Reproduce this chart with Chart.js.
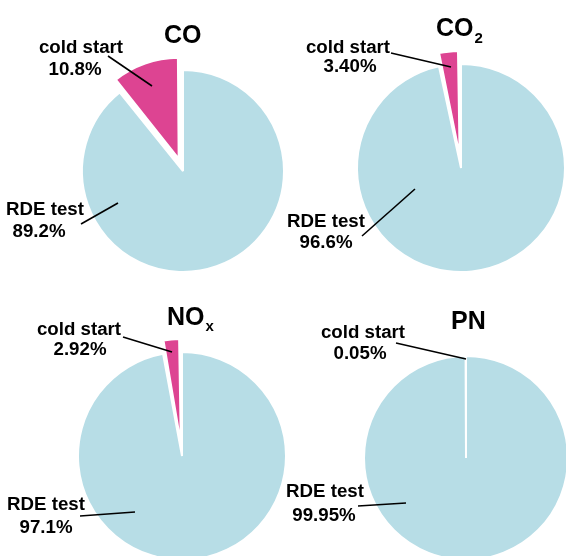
<!DOCTYPE html>
<html>
<head>
<meta charset="utf-8">
<script src="https://cdn.jsdelivr.net/npm/chart.js@4.4.0/dist/chart.umd.min.js"></script>
<style>
  body { margin: 0; background: #fff; }
  #wrap { position: relative; width: 566px; height: 556px; overflow: hidden; }
  canvas { position: absolute; }
</style>
</head>
<body>
<div id="wrap">
  <canvas id="c0" width="300" height="278" style="left:0;top:0"></canvas>
  <canvas id="c1" width="300" height="278" style="left:283px;top:0"></canvas>
  <canvas id="c2" width="300" height="278" style="left:0;top:278px"></canvas>
  <canvas id="c3" width="300" height="278" style="left:283px;top:278px"></canvas>
</div>
<script>
// data
const categories = ["RDE test", "cold start"];
const titleMain = ["CO", "CO", "NO", "PN"];
const titleSub = ["", "2", "x", ""];
const coValues = [89.2, 10.8];
const co2Values = [96.6, 3.40];
const noxValues = [97.1, 2.92];
const pnValues = [99.95, 0.05];
const coLabels = ["89.2%", "10.8%"];
const co2Labels = ["96.6%", "3.40%"];
const noxLabels = ["97.1%", "2.92%"];
const pnLabels = ["99.95%", "0.05%"];

const allValues = [coValues, co2Values, noxValues, pnValues];
const allLabels = [coLabels, co2Labels, noxLabels, pnLabels];

const FONT = '"Liberation Sans", Arial, sans-serif';
const BLUE = "#b7dde6";
const PINK = "#dd4492";

// layout per panel (local canvas coords)
const layouts = [
  { pad: { left: 66, top: 64 }, radius: 101, title: [164, 43, 0],
    rde: { text: [[45, 215], [39, 237]], from: [81, 224], to: [-65, 32] },
    cold: { text: [[81, 53], [75, 75]], from: [108, 56], to: [-31, -85] } },
  { pad: { left: 56, top: 58 }, radius: 104, title: [153, 36, 7],
    rde: { text: [[43, 227], [43, 248]], from: [79, 236], to: [-46, 21] },
    cold: { text: [[65, 53], [67, 72]], from: [108, 53], to: [-10, -101] } },
  { pad: { left: 64, top: 78 }, radius: 104, title: [167, 47, 6],
    rde: { text: [[46, 232], [46, 255]], from: [80, 238], to: [-47, 56] },
    cold: { text: [[79, 57], [80, 77]], from: [123, 59], to: [-10, -104] } },
  { pad: { left: 66, top: 82 }, radius: 102, title: [168, 51, 0],
    rde: { text: [[42, 219], [41, 243]], from: [75, 228], to: [-60, 45] },
    cold: { text: [[80, 60], [77, 81]], from: [113, 65], to: [0, -99] } }
];

// keep the exploded slice at the same radius as the rest of the pie
const offsetFix = {
  id: "offsetFix",
  afterDatasetUpdate(chart, args) {
    args.meta.data.forEach(arc => {
      const off = (arc.options.offset || 0) / 4;
      const fix = 1 - Math.sin(Math.min(Math.PI, arc.circumference));
      arc.outerRadius -= off * fix;
    });
  }
};

// titles, labels and leader lines
const annotations = {
  id: "annotations",
  afterDraw(chart) {
    const i = chart.options.plugins.annotations.index;
    const lay = layouts[i];
    const ctx = chart.ctx;
    const arc = chart.getDatasetMeta(0).data[0];
    ctx.save();
    ctx.fillStyle = "#000";
    ctx.textBaseline = "alphabetic";

    // title
    ctx.textAlign = "left";
    ctx.font = "bold 25px " + FONT;
    ctx.fillText(titleMain[i], lay.title[0], lay.title[1]);
    if (titleSub[i]) {
      const w = ctx.measureText(titleMain[i]).width;
      ctx.font = "bold 15px " + FONT;
      ctx.fillText(titleSub[i], lay.title[0] + w + 1, lay.title[1] + lay.title[2]);
    }

    // slice labels
    ctx.textAlign = "center";
    ctx.font = "bold 18.7px " + FONT;
    ctx.strokeStyle = "#000";
    ctx.lineWidth = 1.6;
    [lay.rde, lay.cold].forEach((l, k) => {
      ctx.fillText(categories[k], l.text[0][0], l.text[0][1]);
      ctx.fillText(allLabels[i][k], l.text[1][0], l.text[1][1]);
      ctx.beginPath();
      ctx.moveTo(l.from[0], l.from[1]);
      ctx.lineTo(arc.x + l.to[0], arc.y + l.to[1]);
      ctx.stroke();
    });
    ctx.restore();
  }
};

layouts.forEach((lay, i) => {
  new Chart(document.getElementById("c" + i), {
    type: "pie",
    data: {
      labels: categories,
      datasets: [{
        data: allValues[i],
        backgroundColor: [BLUE, PINK],
        borderColor: "#fff",
        borderWidth: 2,
        offset: [0, 52],
        radius: lay.radius,
        clip: false
      }]
    },
    options: {
      responsive: false,
      animation: false,
      layout: { padding: { left: lay.pad.left, top: lay.pad.top, right: 0, bottom: 0 } },
      plugins: {
        legend: { display: false },
        tooltip: { enabled: false },
        annotations: { index: i }
      }
    },
    plugins: [offsetFix, annotations]
  });
});
</script>
</body>
</html>
